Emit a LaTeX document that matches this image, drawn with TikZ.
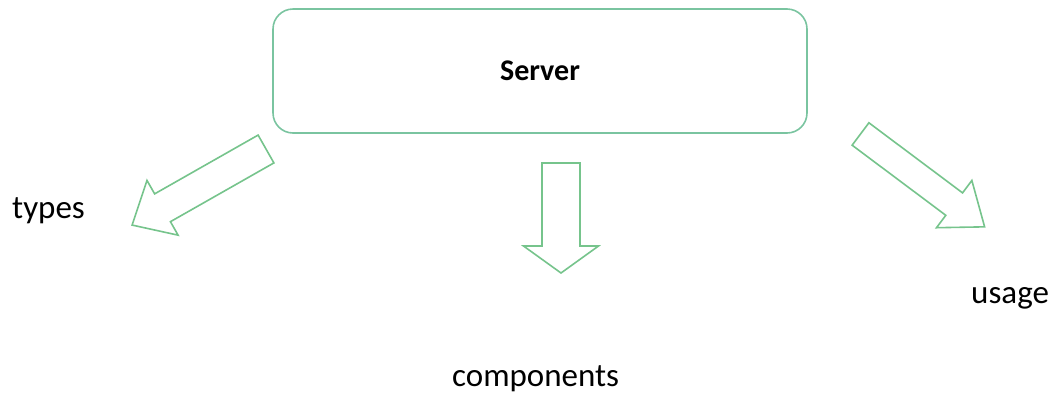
\documentclass[tikz,border=0pt]{standalone}
\usepackage{fontspec}
\setmainfont{Carlito}
\usetikzlibrary{positioning}

\definecolor{boxgreen}{RGB}{122,196,160}
\definecolor{arrowgreen}{RGB}{118,196,140}

\begin{document}
\begin{tikzpicture}
[
    x=1pt, y=-1pt,
    % Coordinates are in pixels of the 1056x397 canvas, origin top left
    % Block arrows are named A-<label>: tail point, angle, length,
    % shaft width, head width, head length
]

%=================================== Start ===================================
\tikzstyle{srv}   = [draw=boxgreen, line width=1.6pt, rounded corners=20pt,
                     minimum width=534pt, minimum height=124pt, inner sep=0pt,
                     font=\fontsize{30}{36}\selectfont\bfseries]
\tikzstyle{lbl}   = [inner sep=0pt, font=\fontsize{33}{40}\selectfont]
\tikzstyle{blk}   = [draw=arrowgreen, line width=1.6pt, fill=white, line join=miter]

\useasboundingbox (0,0) rectangle (1056,397);

{
    % Server box
    \node[srv] (server) at (540,71) {Server};

    % Labels
    \node[lbl, anchor=base west] (types)      at (12,218)  {types};
    \node[lbl, anchor=base west] (components) at (452,386) {components};
    \node[lbl, anchor=base west] (usage)      at (971,303) {usage};

    % Block arrows
    \foreach \name / \tx / \ty / \ang / \len / \sw / \hw / \hl in
        {types/266/149/209.6/154/32/63/35,
         components/561/163/270/110/38/75/27,
         usage/860.5/134/-36.8/155/28/59/38}
    {
        \coordinate (A-\name) at (\tx,\ty);
        \begin{scope}[shift={(A-\name)}, rotate=\ang]
            \draw[blk] (0,-\sw/2) -- ({\len-\hl},-\sw/2) -- ({\len-\hl},-\hw/2)
                -- (\len,0) -- ({\len-\hl},\hw/2) -- ({\len-\hl},\sw/2)
                -- (0,\sw/2) -- cycle;
        \end{scope}
    }
}
%==================================== END ====================================

\end{tikzpicture}
\end{document}
